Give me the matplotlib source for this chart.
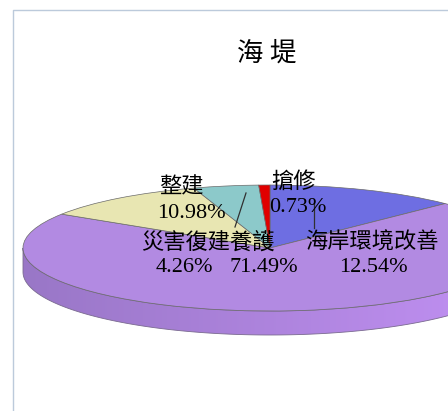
import numpy as np
import matplotlib
matplotlib.use('Agg')
import matplotlib.pyplot as plt
from matplotlib.patches import Polygon
from matplotlib.lines import Line2D
from matplotlib.colors import LinearSegmentedColormap, to_rgb

plt.rcParams['font.family'] = ['Liberation Serif', 'Noto Sans CJK TC', 'DejaVu Sans']

# ---- data ----
title = "海堤"
categories = ["海岸環境改善", "", "整建", "災害復建養護", "搶修"]
shares = [12.54, 71.49, 10.98, 4.26, 0.73]
colors = ["#6E6EE2", "#B28AE2", "#E8E6B2", "#8CC9CA", "#E00000"]

# ---- layout (pixels, from top-left) ----
W, H, DPI = 448, 411, 100
cx, cy, rx, ry, depth = 270, 248, 247, 63, 24
# (name_x, name_y, name_ha, pct_x, pct_y, pct_ha)
label_pos = [
    (372, 243, 'center', 373, 267, 'center'),
    (None, None, None, 264, 267, 'center'),
    (159, 188, 'left', 157, 213, 'left'),
    (141, 243, 'left', 156, 267, 'left'),
    (271, 182, 'left', 269, 207, 'left'),
]
leaders = [((246, 193), (235, 227)), ((314, 200), (314, 228))]

fig = plt.figure(figsize=(W / DPI, H / DPI), dpi=DPI)
fig.patch.set_facecolor('white')

def fpx(x, y):
    return x / W, 1 - y / H

ax = fig.add_axes([0, 0, 1, 1])
wedges, _ = ax.pie(shares, colors=colors, startangle=90, counterclock=False,
                   radius=1, center=(0, 0),
                   wedgeprops=dict(edgecolor='#6A6A6A', linewidth=0.5, zorder=3))
ax.set_aspect('auto')
xl = (-cx / rx, (W - cx) / rx)
yl = (-(H - cy) / ry, cy / ry)
t = depth / ry

# side of the 3-D pie, built from each wedge's angles
for w in wedges:
    base = np.array(to_rgb(w.get_facecolor()))
    for k in (-1, 0, 1):
        a = max(w.theta1, 180 + 360 * k)
        b = min(w.theta2, 360 + 360 * k)
        if b <= a:
            continue
        th = np.radians(np.linspace(a, b, 200))
        top = np.column_stack([np.cos(th), np.sin(th)])
        bot = np.column_stack([np.cos(th), np.sin(th) - t])[::-1]
        poly = Polygon(np.vstack([top, bot]), closed=True, facecolor='none',
                       edgecolor='#7A6A90', linewidth=0.6, zorder=2)
        ax.add_patch(poly)
        dark = np.clip(base * np.array([0.86, 0.86, 0.88]), 0, 1)
        light = np.clip(base * np.array([1.09, 1.05, 1.08]), 0, 1)
        cmap = LinearSegmentedColormap.from_list('g', [dark, light])
        grad = np.linspace(0, 1, 256).reshape(1, -1)
        im = ax.imshow(grad, cmap=cmap, aspect='auto',
                       extent=(np.cos(th).min(), np.cos(th).max(), -1 - t, 0.2),
                       zorder=1.5)
        im.set_clip_path(poly)

ax.set_xlim(*xl)
ax.set_ylim(*yl)
ax.axis('off')

# labels
fs = 16
for name, val, pos in zip(categories, shares, label_pos):
    nx, ny, nha, px, py, pha = pos
    if name and nx is not None:
        fig.text(*fpx(nx, ny), name, ha=nha, va='center', fontsize=fs,
                 color='black', zorder=10)
    fig.text(*fpx(px, py), f"{val:.2f}%", ha=pha, va='center', fontsize=fs,
             color='black', zorder=10)

for (x0, y0), (x1, y1) in leaders:
    fig.add_artist(Line2D([x0 / W, x1 / W], [1 - y0 / H, 1 - y1 / H],
                          color='#303030', linewidth=0.9))

fig.text(*fpx(267, 53), " ".join(title), ha='center', va='center', fontsize=19,
         color='black')

# chart area border
fig.add_artist(Line2D([13 / W, 13 / W, 1.0], [0.0, 1 - 10 / H, 1 - 10 / H],
                      color='#BCCADB', linewidth=1.0))

fig.savefig('out.png', dpi=DPI, facecolor='white')
